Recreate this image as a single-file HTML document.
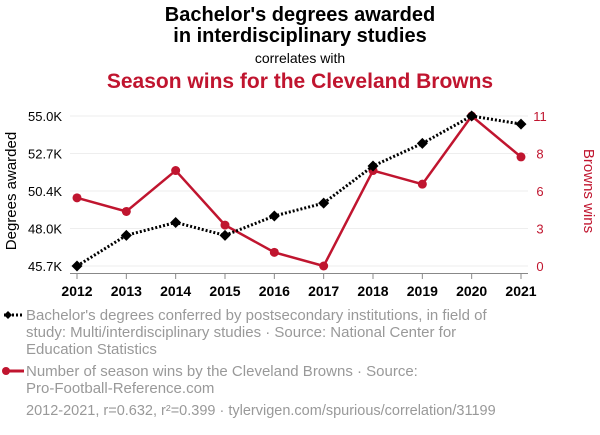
<!DOCTYPE html>
<html><head><meta charset="utf-8"><style>
body{margin:0;background:#fff;width:600px;height:430px;overflow:hidden;font-family:"Liberation Sans",sans-serif}
</style></head><body>
<svg id="c" width="600" height="430" font-family="Liberation Sans, sans-serif">
<text x="300" y="21" text-anchor="middle" font-size="20" font-weight="bold" fill="#000">Bachelor's degrees awarded</text>
<text x="300" y="42" text-anchor="middle" font-size="20" font-weight="bold" fill="#000">in interdisciplinary studies</text>
<text x="300" y="63" text-anchor="middle" font-size="14" fill="#000">correlates with</text>
<text x="300" y="88" text-anchor="middle" font-size="21" font-weight="bold" fill="#c0152f">Season wins for the Cleveland Browns</text>
<text transform="translate(16,191) rotate(-90)" text-anchor="middle" font-size="15" fill="#000">Degrees awarded</text>
<text transform="translate(584,191) rotate(90)" text-anchor="middle" font-size="15" fill="#c0152f">Browns wins</text>
<g id="grid"></g><g id="marks"></g><g id="labels"></g>
<line x1="4" y1="315" x2="24" y2="315" stroke="#000" stroke-width="3" stroke-dasharray="2,2"/>
<path d="M4 315 l4-4 4 4-4 4z" fill="#000"/>
<text font-size="15" fill="#999"><tspan x="26" y="320">Bachelor's degrees conferred by postsecondary institutions, in field of</tspan><tspan x="26" y="337">study: Multi/interdisciplinary studies · Source: National Center for</tspan><tspan x="26" y="354">Education Statistics</tspan></text>
<line x1="4" y1="371" x2="24" y2="371" stroke="#c0152f" stroke-width="3"/>
<circle cx="6" cy="371" r="4" fill="#c0152f"/>
<text font-size="15" fill="#999"><tspan x="26" y="376">Number of season wins by the Cleveland Browns · Source:</tspan><tspan x="26" y="393">Pro-Football-Reference.com</tspan></text>
<text x="26" y="415" font-size="14.5" fill="#999">2012-2021, r=0.632, r²=0.399 · tylervigen.com/spurious/correlation/31199</text>
<line x1="70" y1="273.5" x2="528" y2="273.5" stroke="#888"/>
</svg>
<script>
const years=[2012,2013,2014,2015,2016,2017,2018,2019,2020,2021];
const degrees=[45.7,47.6,48.4,47.6,48.8,49.6,51.9,53.3,55.0,54.5];
const wins=[5,4,7,3,1,0,7,6,11,8];
const leftTicks=["45.7K","48.0K","50.4K","52.7K","55.0K"];
const rightTicks=["0","3","6","8","11"];
const NS="http://www.w3.org/2000/svg";
const x0=77,x1=521,yT=116,yB=266;
const dMin=45.7,dMax=55.0,wMin=0,wMax=11;
function xs(i){return x0+(x1-x0)*i/(years.length-1);}
function yl(v){return yB-(v-dMin)/(dMax-dMin)*(yB-yT);}
function yr(v){return yB-(v-wMin)/(wMax-wMin)*(yB-yT);}
function mk(tag,at,parent){const e=document.createElementNS(NS,tag);for(const k in at)e.setAttribute(k,at[k]);document.getElementById(parent).appendChild(e);return e;}
for(let i=0;i<5;i++){
 const y=yB-(yB-yT)*i/4;
 const g=mk('line',{x1:x0-7,x2:x1+7,y1:y,y2:y,stroke:'#eee'},'grid');
 
 
 const t=mk('text',{x:62,y:y+5,'text-anchor':'end','font-size':13,fill:'#000'},'labels');t.textContent=leftTicks[i];
 
 
 const r=mk('text',{x:540,y:y+5,'text-anchor':'middle','font-size':13,fill:'#c0152f'},'labels');r.textContent=rightTicks[i];
 
 
}
years.forEach((yv,i)=>{
 const t=mk('text',{x:xs(i),y:296,'text-anchor':'middle','font-size':14,'font-weight':'bold',fill:'#000'},'labels');t.textContent=yv;
 
 
 const tk=mk('line',{x1:xs(i),x2:xs(i),y1:273,y2:279,stroke:'#888'},'labels');
 
 
});
const wl=mk('polyline',{points:wins.map((v,i)=>xs(i)+','+yr(v)).join(' '),fill:'none',stroke:'#c0152f','stroke-width':2.5},'marks');


wins.forEach((v,i)=>{const c=mk('circle',{cx:xs(i),cy:yr(v),r:4.5,fill:'#c0152f'},'marks');
 
 });
const dl=mk('polyline',{points:degrees.map((v,i)=>xs(i)+','+yl(v)).join(' '),fill:'none',stroke:'#000','stroke-width':3,'stroke-dasharray':'2,2'},'marks');


degrees.forEach((v,i)=>{const x=xs(i),y=yl(v);const p=mk('path',{d:`M${x-5.5} ${y} L${x} ${y-5.5} L${x+5.5} ${y} L${x} ${y+5.5}Z`,fill:'#000'},'marks');
 
 });
</script>
</body></html>
